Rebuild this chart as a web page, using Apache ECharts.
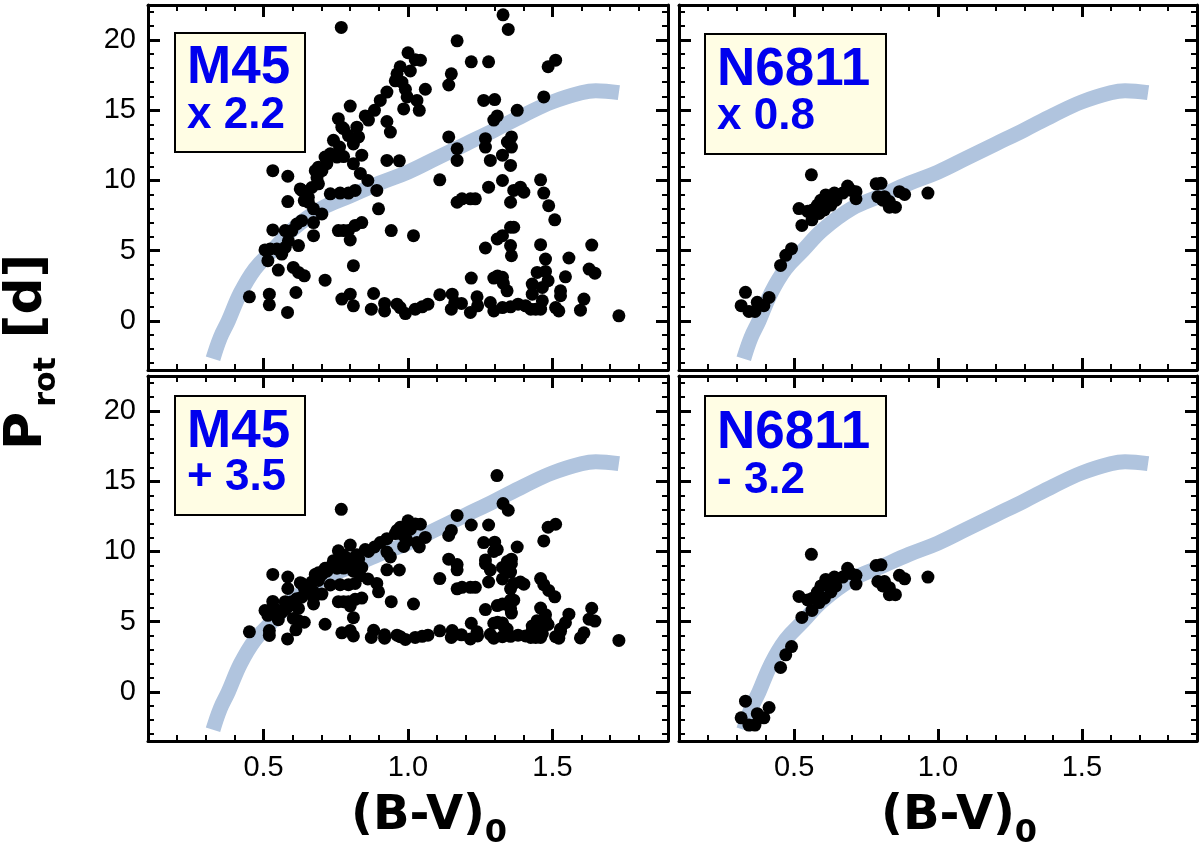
<!DOCTYPE html>
<html>
<head>
<meta charset="utf-8">
<script src="https://cdn.jsdelivr.net/npm/echarts@6/dist/echarts.min.js"></script>
<style>
html, body { margin: 0; padding: 0; background: #fff; }
#chart { width: 1200px; height: 853px; }
</style>
</head>
<body>
<div id="chart"></div>
<script>
// axis ranges
var xRange = [0.1, 1.9];
var yRange = [-3.5, 22.5];

// M45: (B-V)0 and rotation period as plotted in the upper panel (P x 2.2)
var m45BV = [
  0.769,0.759,0.771,0.742,0.763,0.731,0.754,0.719,0.702,0.679,
  0.685,0.690,0.667,0.632,0.655,0.655,0.731,0.765,0.532,0.584,
  0.584,0.702,0.673,0.632,0.615,0.598,0.575,0.532,0.673,0.621,
  0.586,0.575,0.563,0.546,0.523,0.505,0.515,0.551,0.603,0.621,
  0.641,0.713,0.451,0.520,0.520,0.612,0.583,0.759,0.673,0.627,
  0.641,0.713,0.690,
  1.329,1.347,1.170,1.000,1.025,1.043,1.219,1.279,0.973,0.962,
  1.008,1.150,1.141,0.956,0.979,0.991,1.060,0.997,1.031,1.039,
  0.985,0.927,0.904,0.884,0.852,0.863,0.800,0.777,0.823,0.829,
  0.794,0.811,0.777,0.811,0.840,0.927,0.939,0.927,0.970,0.835,
  0.861,0.892,0.898,0.817,0.794,0.840,0.817,0.794,0.777,0.800,
  0.811,0.942,1.019,1.110,1.141,1.170,1.170,1.262,1.300,1.378,
  1.309,1.297,1.268,1.268,1.344,1.358,1.358,1.327,1.285,1.355,
  1.327,1.279,1.366,1.389,1.355,1.170,1.187,1.216,1.233,1.355,
  1.366,1.309,1.327,1.268,1.355,1.358,1.219,1.297,1.327,1.330,
  1.343,1.310,
  0.771,0.800,0.811,0.873,0.881,0.919,0.919,0.962,0.973,0.991,
  1.025,1.049,1.069,1.110,1.153,1.162,1.150,1.185,1.216,1.239,
  1.241,1.285,1.297,1.327,1.355,1.381,
  1.485,1.511,1.470,1.459,1.470,1.487,1.508,1.401,1.459,1.476,
  1.557,1.636,1.627,1.647,1.447,1.476,1.485,1.465,1.430,1.430,
  1.545,1.528,1.528,1.609,1.597,1.730,1.407,1.425,1.442,1.459,
  1.465,1.511,1.522,
  1.308
];
var m45Px22 = [
  20.9,14.4,13.8,12.86,12.38,11.9,11.67,11.2,10.7,10.7,
  10.2,9.76,9.5,9.3,8.8,8.45,9.05,9.1,10.7,10.3,
  8.5,7.62,7.0,7.14,6.9,6.43,6.43,6.48,6.07,5.36,
  5.7,5.24,4.76,5.12,5.12,5.05,4.29,3.62,3.81,3.45,
  3.21,2.9,1.71,1.9,1.14,2.02,0.6,6.43,7.98,9.4,
  8.57,11.67,10.95,
  21.8,20.76,19.95,19.1,18.6,18.57,18.45,18.45,18.1,17.6,
  17.8,17.6,16.8,17.1,17.0,16.5,16.5,15.95,15.7,15.0,
  15.1,16.3,15.7,15.0,14.6,14.3,15.3,13.7,13.8,13.1,
  13.2,12.6,11.7,11.2,11.8,14.2,13.45,11.43,11.4,10.5,
  10.0,9.29,7.98,9.29,9.1,7.0,6.8,6.43,6.43,5.76,
  3.93,6.43,6.07,10.05,13.1,12.26,11.43,15.7,15.76,15.0,
  14.6,14.3,12.98,12.38,12.74,13.1,12.38,11.8,11.43,11.07,
  10.0,9.52,9.29,9.52,8.45,8.45,8.69,8.69,8.69,6.67,
  6.67,5.83,6.07,5.19,5.36,4.64,3.05,3.05,3.1,2.67,
  2.14,3.2,
  1.55,1.9,1.07,0.83,1.95,1.24,0.71,1.19,0.95,0.52,
  0.83,1.0,1.19,1.86,1.9,1.31,0.83,1.24,0.6,1.71,
  1.07,1.31,0.71,0.95,1.0,1.19,
  18.1,18.57,15.95,10.05,9.1,8.2,7.2,9.17,5.43,4.4,
  4.48,5.4,3.69,3.4,3.45,3.52,2.86,2.38,2.62,1.9,
  3.14,2.14,1.79,1.55,0.76,0.36,1.07,0.83,0.83,0.83,
  1.43,0.95,0.71,
  26.2
];

// NGC 6811: (B-V)0 and rotation period as plotted in the upper panel (P x 0.8)
var n6811BV = [
  0.331,0.316,0.343,0.364,0.372,0.395,0.413,0.453,0.471,0.491,
  0.560,0.517,0.527,0.547,0.562,0.564,0.581,0.593,0.605,0.610,
  0.622,0.640,0.645,0.669,0.686,0.698,0.715,0.715,0.785,0.802,
  0.791,0.808,0.831,0.831,0.852,0.866,0.884,0.965,0.587,0.628,0.814
];
var n6811Px08 = [
  2.03,1.08,0.67,0.67,1.32,1.08,1.67,3.95,4.67,5.14,
  10.4,8.0,6.8,7.8,7.2,7.9,8.25,8.6,7.9,8.97,
  8.6,9.1,8.6,9.1,9.6,9.3,9.2,8.7,9.76,9.8,
  8.85,8.6,8.5,8.1,8.1,9.2,9.0,9.1,7.65,8.25,8.85
];

// reference sequence (thick band)
var seqBV = [0.325,0.35,0.378,0.42,0.47,0.53,0.6,0.7,0.8,0.9,1.0,1.1,1.2,1.3,1.4,1.5,1.6,1.65,1.73];
var seqP  = [-2.7,-1.2,0,2.0,3.7,5.0,6.5,8.0,8.9,9.8,10.6,11.6,12.6,13.6,14.65,15.6,16.25,16.4,16.26];

// panel labels: cluster and the transformation applied to its periods
var panelNames = ['M45', 'N6811', 'M45', 'N6811'];
var panelOps = ['x 2.2', 'x 0.8', '+ 3.5', '- 3.2'];

var chart = echarts.init(document.getElementById('chart'));

function pairs(xs, ys, f) {
  return xs.map(function (x, i) { return [x, f(ys[i])]; });
}
var seqData = pairs(seqBV, seqP, function (v) { return v; });
var m45Top = pairs(m45BV, m45Px22, function (v) { return v; });
var m45Bot = pairs(m45BV, m45Px22, function (v) { return v / 2.2 + 3.5; });
var n68Top = pairs(n6811BV, n6811Px08, function (v) { return v; });
var n68Bot = pairs(n6811BV, n6811Px08, function (v) { return v / 0.8 - 3.2; });

var grids = [
  { left: 148, top: 5, width: 520, height: 365 },
  { left: 679, top: 5, width: 518, height: 365 },
  { left: 148, top: 376, width: 520, height: 365 },
  { left: 679, top: 376, width: 518, height: 365 }
];
var panelData = [m45Top, n68Top, m45Bot, n68Bot];

function axisBase(i, pos, range, split, showLabel, digits) {
  return {
    type: 'value', gridIndex: i, position: pos, z: 5,
    min: range[0], max: range[1], splitNumber: split,
    axisLine: { show: true, onZero: false, lineStyle: { color: '#000', width: 3 } },
    splitLine: { show: false },
    axisTick: { show: true, inside: true, length: 12, lineStyle: { color: '#000', width: 3 } },
    minorTick: { show: true, splitNumber: 5, length: 6, lineStyle: { color: '#000', width: 2 } },
    axisLabel: {
      show: showLabel, margin: 12,
      fontFamily: 'Liberation Sans', fontSize: 29, color: '#000',
      formatter: function (v) {
        if (Math.abs(v - range[0]) < 1e-6 || Math.abs(v - range[1]) < 1e-6) return '';
        return v.toFixed(digits);
      }
    }
  };
}

var xAxes = [], yAxes = [], series = [];
grids.forEach(function (g, i) {
  xAxes.push(axisBase(i, 'bottom', xRange, 4, i >= 2, 1));
  xAxes.push(axisBase(i, 'top', xRange, 4, false, 1));
  yAxes.push(axisBase(i, 'left', yRange, 5, i % 2 === 0, 0));
  yAxes.push(axisBase(i, 'right', yRange, 5, false, 0));
  series.push({
    type: 'line', xAxisIndex: 2 * i, yAxisIndex: 2 * i, data: seqData,
    smooth: 0.4, showSymbol: false, symbol: 'none', silent: true, z: 1,
    lineStyle: { color: '#b0c4de', width: 15, cap: 'butt' }
  });
  series.push({
    type: 'scatter', xAxisIndex: 2 * i, yAxisIndex: 2 * i, data: panelData[i],
    symbolSize: 13, itemStyle: { color: '#000', opacity: 1 }, z: 2
  });
});

// label boxes
var boxes = [
  { x: 175, y: 33, w: 130, h: 119, t1: 68, t2: 116 },
  { x: 705, y: 34, w: 181, h: 120, t1: 70.5, t2: 116.5 },
  { x: 175, y: 396, w: 130, h: 119, t1: 432.5, t2: 477.5 },
  { x: 705, y: 396, w: 181, h: 120, t1: 433.5, t2: 480.5 }
];
var graphics = [];
boxes.forEach(function (b, i) {
  graphics.push({
    type: 'rect', shape: { x: b.x, y: b.y, width: b.w, height: b.h }, z: 10,
    style: { fill: '#fffde4', stroke: '#000', lineWidth: 2 }
  });
  graphics.push({
    type: 'text', x: b.x + 12, y: b.t1, z: 11,
    style: { text: panelNames[i], fill: '#0000ee', font: 'bold 53px "Liberation Sans"', align: 'left', verticalAlign: 'middle' }
  });
  graphics.push({
    type: 'text', x: b.x + 12, y: b.t2, z: 11,
    style: { text: panelOps[i], fill: '#0000ee', font: 'bold 44px "Liberation Sans"', align: 'left', verticalAlign: 'middle' }
  });
});

// x titles (B-V)0 under both columns
[418, 948].forEach(function (cx) {
  graphics.push({
    type: 'text', x: cx, y: 817, z: 11,
    style: { text: '(B-V)', fill: '#000', font: 'bold 48px "DejaVu Sans"', align: 'center', verticalAlign: 'middle' }
  });
  graphics.push({
    type: 'text', x: cx + 78, y: 834, z: 11,
    style: { text: '0', fill: '#000', font: 'bold 32px "DejaVu Sans"', align: 'center', verticalAlign: 'middle' }
  });
});

// y title P_rot [d]
graphics.push({
  type: 'text', x: 27, y: 431, rotation: Math.PI / 2, z: 11,
  style: { text: 'P', fill: '#000', font: 'bold 52px "DejaVu Sans"', align: 'center', verticalAlign: 'middle' }
});
graphics.push({
  type: 'text', x: 47, y: 382, rotation: Math.PI / 2, z: 11,
  style: { text: 'rot', fill: '#000', font: 'bold 30px "DejaVu Sans"', align: 'center', verticalAlign: 'middle' }
});
graphics.push({
  type: 'text', x: 27, y: 296, rotation: Math.PI / 2, z: 11,
  style: { text: '[d]', fill: '#000', font: 'bold 52px "DejaVu Sans"', align: 'center', verticalAlign: 'middle' }
});

chart.setOption({
  animation: false,
  grid: grids,
  xAxis: xAxes,
  yAxis: yAxes,
  series: series,
  graphic: graphics
});
</script>
</body>
</html>
